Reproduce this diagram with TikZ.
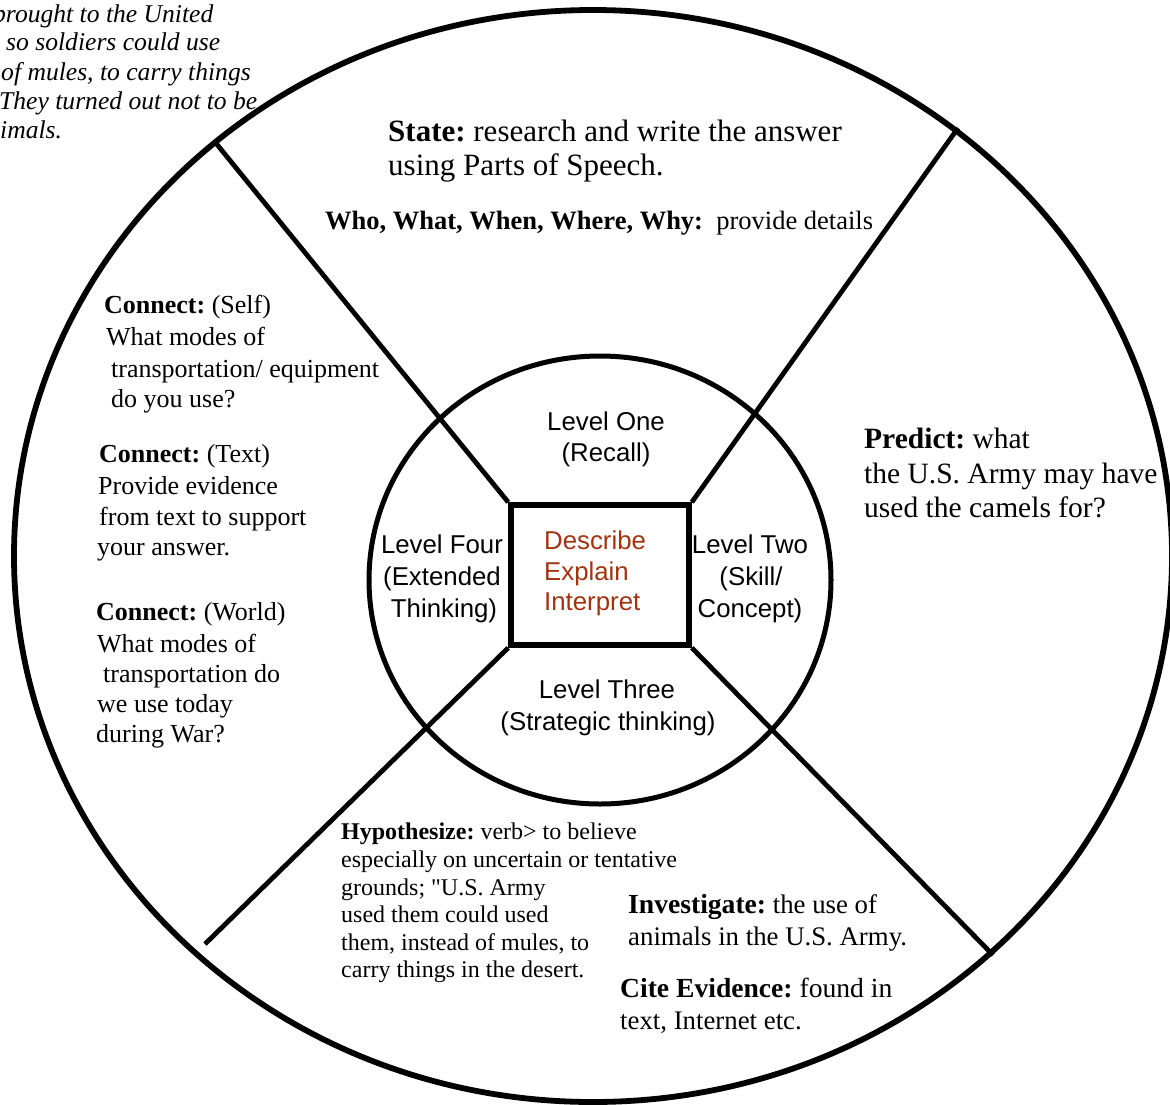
\documentclass[tikz,border=0pt]{standalone}
\usepackage{fontspec}
\setmainfont{Liberation Serif}[Ligatures=TeXOff]
\newfontfamily\arialf{Liberation Sans}
\usetikzlibrary{shapes.geometric}
\definecolor{centerred}{RGB}{163,51,16}
\newcommand\fsState{\fontsize{31}{35}\selectfont}
\newcommand\fsPred{\fontsize{29.5}{34}\selectfont}
\newcommand\fsWho{\fontsize{26.5}{31}\selectfont}
\newcommand\fsConn{\fontsize{26}{31}\selectfont}
\newcommand\fsHyp{\fontsize{24}{28}\selectfont}
\newcommand\fsInv{\fontsize{26.8}{31}\selectfont}
\newcommand\fsInvB{\fontsize{27.6}{31}\selectfont}
\newcommand\fsTop{\fontsize{25.6}{29}\selectfont\itshape}
\newcommand\fsInner{\arialf\fontsize{25.8}{31}\selectfont}
\frenchspacing
\begin{document}
\begin{tikzpicture}[x=1pt,y=-1pt,
  txt/.style={inner sep=0pt, anchor=base west},
  ctxt/.style={inner sep=0pt, anchor=base},
  divider/.style={line width=4.8pt},
  ring/.style={draw, ellipse, inner sep=0pt},
]
\useasboundingbox (0,0) rectangle (1170,1104);
\fill[white] (0,0) rectangle (1170,1104);

% outer and inner rings
\node[ring, line width=5.8pt, minimum width=1158pt, minimum height=1092pt] (outer) at (593,556) {};
\node[ring, line width=5pt, minimum width=462pt, minimum height=448pt] (inner) at (600,580) {};
% central square
\node[draw, rectangle, line width=5.6pt, minimum width=178pt, minimum height=140pt, inner sep=0pt] (sq) at (600,575) {};

% divider end points on the outer ring
\coordinate (o1) at (215,142);
\coordinate (o2) at (958,128);
\coordinate (o3) at (205,944);
\coordinate (o4) at (993,955);
\draw[divider] (sq.north west) -- (o1);
\draw[divider] (sq.north east) -- (o2);
\draw[divider] (sq.south west) -- (o3);
\draw[divider] (sq.south east) -- (o4);

% clipped italic text at the top left
\node[txt] (t1) at (-7,22) {\fsTop brought to the United};
\node[txt] (t2) at (6,50) {\fsTop so soldiers could use};
\node[txt] (t3) at (1,80) {\fsTop of mules, to carry things};
\node[txt] (t4) at (-1,109) {\fsTop They turned out not to be};
\node[txt] (t5) at (0,138) {\fsTop imals.};

% top sector
\node[txt] (s1) at (388,141) {\fsState\textbf{State:} research and write the answer};
\node[txt] (s2) at (388,175) {\fsState using Parts of Speech.};
\node[txt] (w1) at (325,229) {\fsWho\textbf{Who, What, When, Where, Why:}\ \ provide details};

% left sector
\node[txt] (c1) at (104,313) {\fsConn\textbf{Connect:} (Self)};
\node[txt] (c2) at (106,345) {\fsConn What modes of};
\node[txt] (c3) at (111,377) {\fsConn transportation/ equipment};
\node[txt] (c4) at (111,407) {\fsConn do you use?};
\node[txt] (c5) at (99,462) {\fsConn\textbf{Connect:} (Text)};
\node[txt] (c6) at (98,494) {\fsConn Provide evidence};
\node[txt] (c7) at (99,525) {\fsConn from text to support};
\node[txt] (c8) at (97,555) {\fsConn your answer.};
\node[txt] (c9) at (96,620) {\fsConn\textbf{Connect:} (World)};
\node[txt] (c10) at (97,652) {\fsConn What modes of};
\node[txt] (c11) at (103,682) {\fsConn transportation do};
\node[txt] (c12) at (97,712) {\fsConn we use today};
\node[txt] (c13) at (96,742) {\fsConn during War?};

% right sector
\node[txt] (p1) at (864,448) {\fsPred\textbf{Predict:} what};
\node[txt] (p2) at (864,483) {\fsPred the U.S. Army may have};
\node[txt] (p3) at (864,517) {\fsPred used the camels for?};

% bottom sector
\node[txt] (h1) at (341,839) {\fsHyp\textbf{Hypothesize:} verb> to believe};
\node[txt] (h2) at (341,867) {\fsHyp especially on uncertain or tentative};
\node[txt] (h3) at (341,895) {\fsHyp grounds; "U.S. Army};
\node[txt] (h4) at (341,922) {\fsHyp used them could used};
\node[txt] (h5) at (341,950) {\fsHyp them, instead of mules, to};
\node[txt] (h6) at (341,977) {\fsHyp carry things in the desert.};
\node[txt] (i1) at (628,913) {\fsInv{\fsInvB\textbf{Investigate:}} the use of};
\node[txt] (i2) at (628,945) {\fsInv animals in the U.S. Army.};
\node[txt] (e1) at (620,997) {\fsInvB\textbf{Cite Evidence:} found in};
\node[txt] (e2) at (620,1029) {\fsInv text, Internet etc.};

% inner ring labels
\node[ctxt] (l1a) at (606,430) {\fsInner Level One};
\node[ctxt] (l1b) at (606,461) {\fsInner (Recall)};
\node[ctxt] (l4a) at (442,553) {\fsInner Level Four};
\node[ctxt] (l4b) at (442,585) {\fsInner (Extended};
\node[ctxt] (l4c) at (444,617) {\fsInner Thinking)};
\node[ctxt] (l2a) at (750,553) {\fsInner Level Two};
\node[ctxt] (l2b) at (751,585) {\fsInner (Skill/};
\node[ctxt] (l2c) at (750,617) {\fsInner Concept)};
\node[ctxt] (l3a) at (607,698) {\fsInner Level Three};
\node[ctxt] (l3b) at (608,730) {\fsInner (Strategic thinking)};

% centre
\node[txt, text=centerred] (d1) at (544,549) {\fsInner Describe};
\node[txt, text=centerred] (d2) at (544,580) {\fsInner Explain};
\node[txt, text=centerred] (d3) at (544,610) {\fsInner Interpret};
\end{tikzpicture}
\end{document}
